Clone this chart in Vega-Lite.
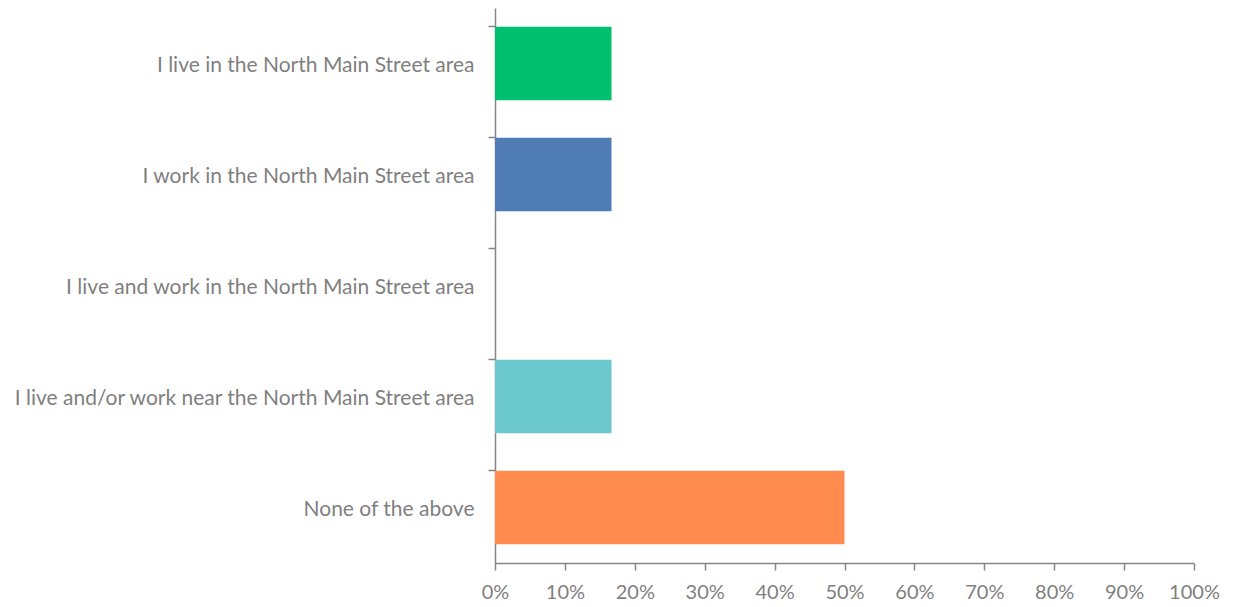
{
  "$schema": "https://vega.github.io/schema/vega-lite/v6.json",
  "width": 699,
  "height": 555,
  "autosize": {"type": "none"},
  "padding": {"left": 495, "top": 8, "right": 39, "bottom": 44},
  "background": "white",
  "config": {"view": {"stroke": null}},
  "data": {
    "values": [
      {"answer": "I live in the North Main Street area", "pct": 0.1667, "color": "#00BF6F"},
      {"answer": "I work in the North Main Street area", "pct": 0.1667, "color": "#507CB6"},
      {"answer": "I live and work in the North Main Street area", "pct": 0, "color": "#6BC8CD"},
      {"answer": "I live and/or work near the North Main Street area", "pct": 0.1667, "color": "#6BC8CD"},
      {"answer": "None of the above", "pct": 0.5, "color": "#FF8B4F"}
    ]
  },
  "mark": {"type": "bar"},
  "encoding": {
    "y": {
      "field": "answer",
      "type": "nominal",
      "sort": null,
      "scale": {"paddingInner": 0.34, "paddingOuter": 0.17},
      "axis": {
        "title": null,
        "bandPosition": 0,
        "domainColor": "#868686",
        "domainWidth": 1.5,
        "tickColor": "#868686",
        "tickWidth": 1.5,
        "tickSize": 7,
        "labelPadding": 14,
        "labelFont": "Lato",
        "labelFontSize": 21,
        "labelColor": "#7f7f7f",
        "labelLimit": 600,
        "labelOffset": 2
      }
    },
    "x": {
      "field": "pct",
      "type": "quantitative",
      "scale": {"domain": [0, 1], "nice": false},
      "axis": {
        "title": null,
        "format": ".0%",
        "values": [0, 0.1, 0.2, 0.3, 0.4, 0.5, 0.6, 0.7, 0.8, 0.9, 1],
        "grid": false,
        "domainColor": "#868686",
        "domainWidth": 1.5,
        "tickColor": "#868686",
        "tickWidth": 1.5,
        "tickSize": 7,
        "labelPadding": 12,
        "labelFont": "Lato",
        "labelFontSize": 20,
        "labelColor": "#7f7f7f",
        "labelFlush": false
      }
    },
    "color": {"field": "color", "type": "nominal", "scale": null, "legend": null}
  }
}
